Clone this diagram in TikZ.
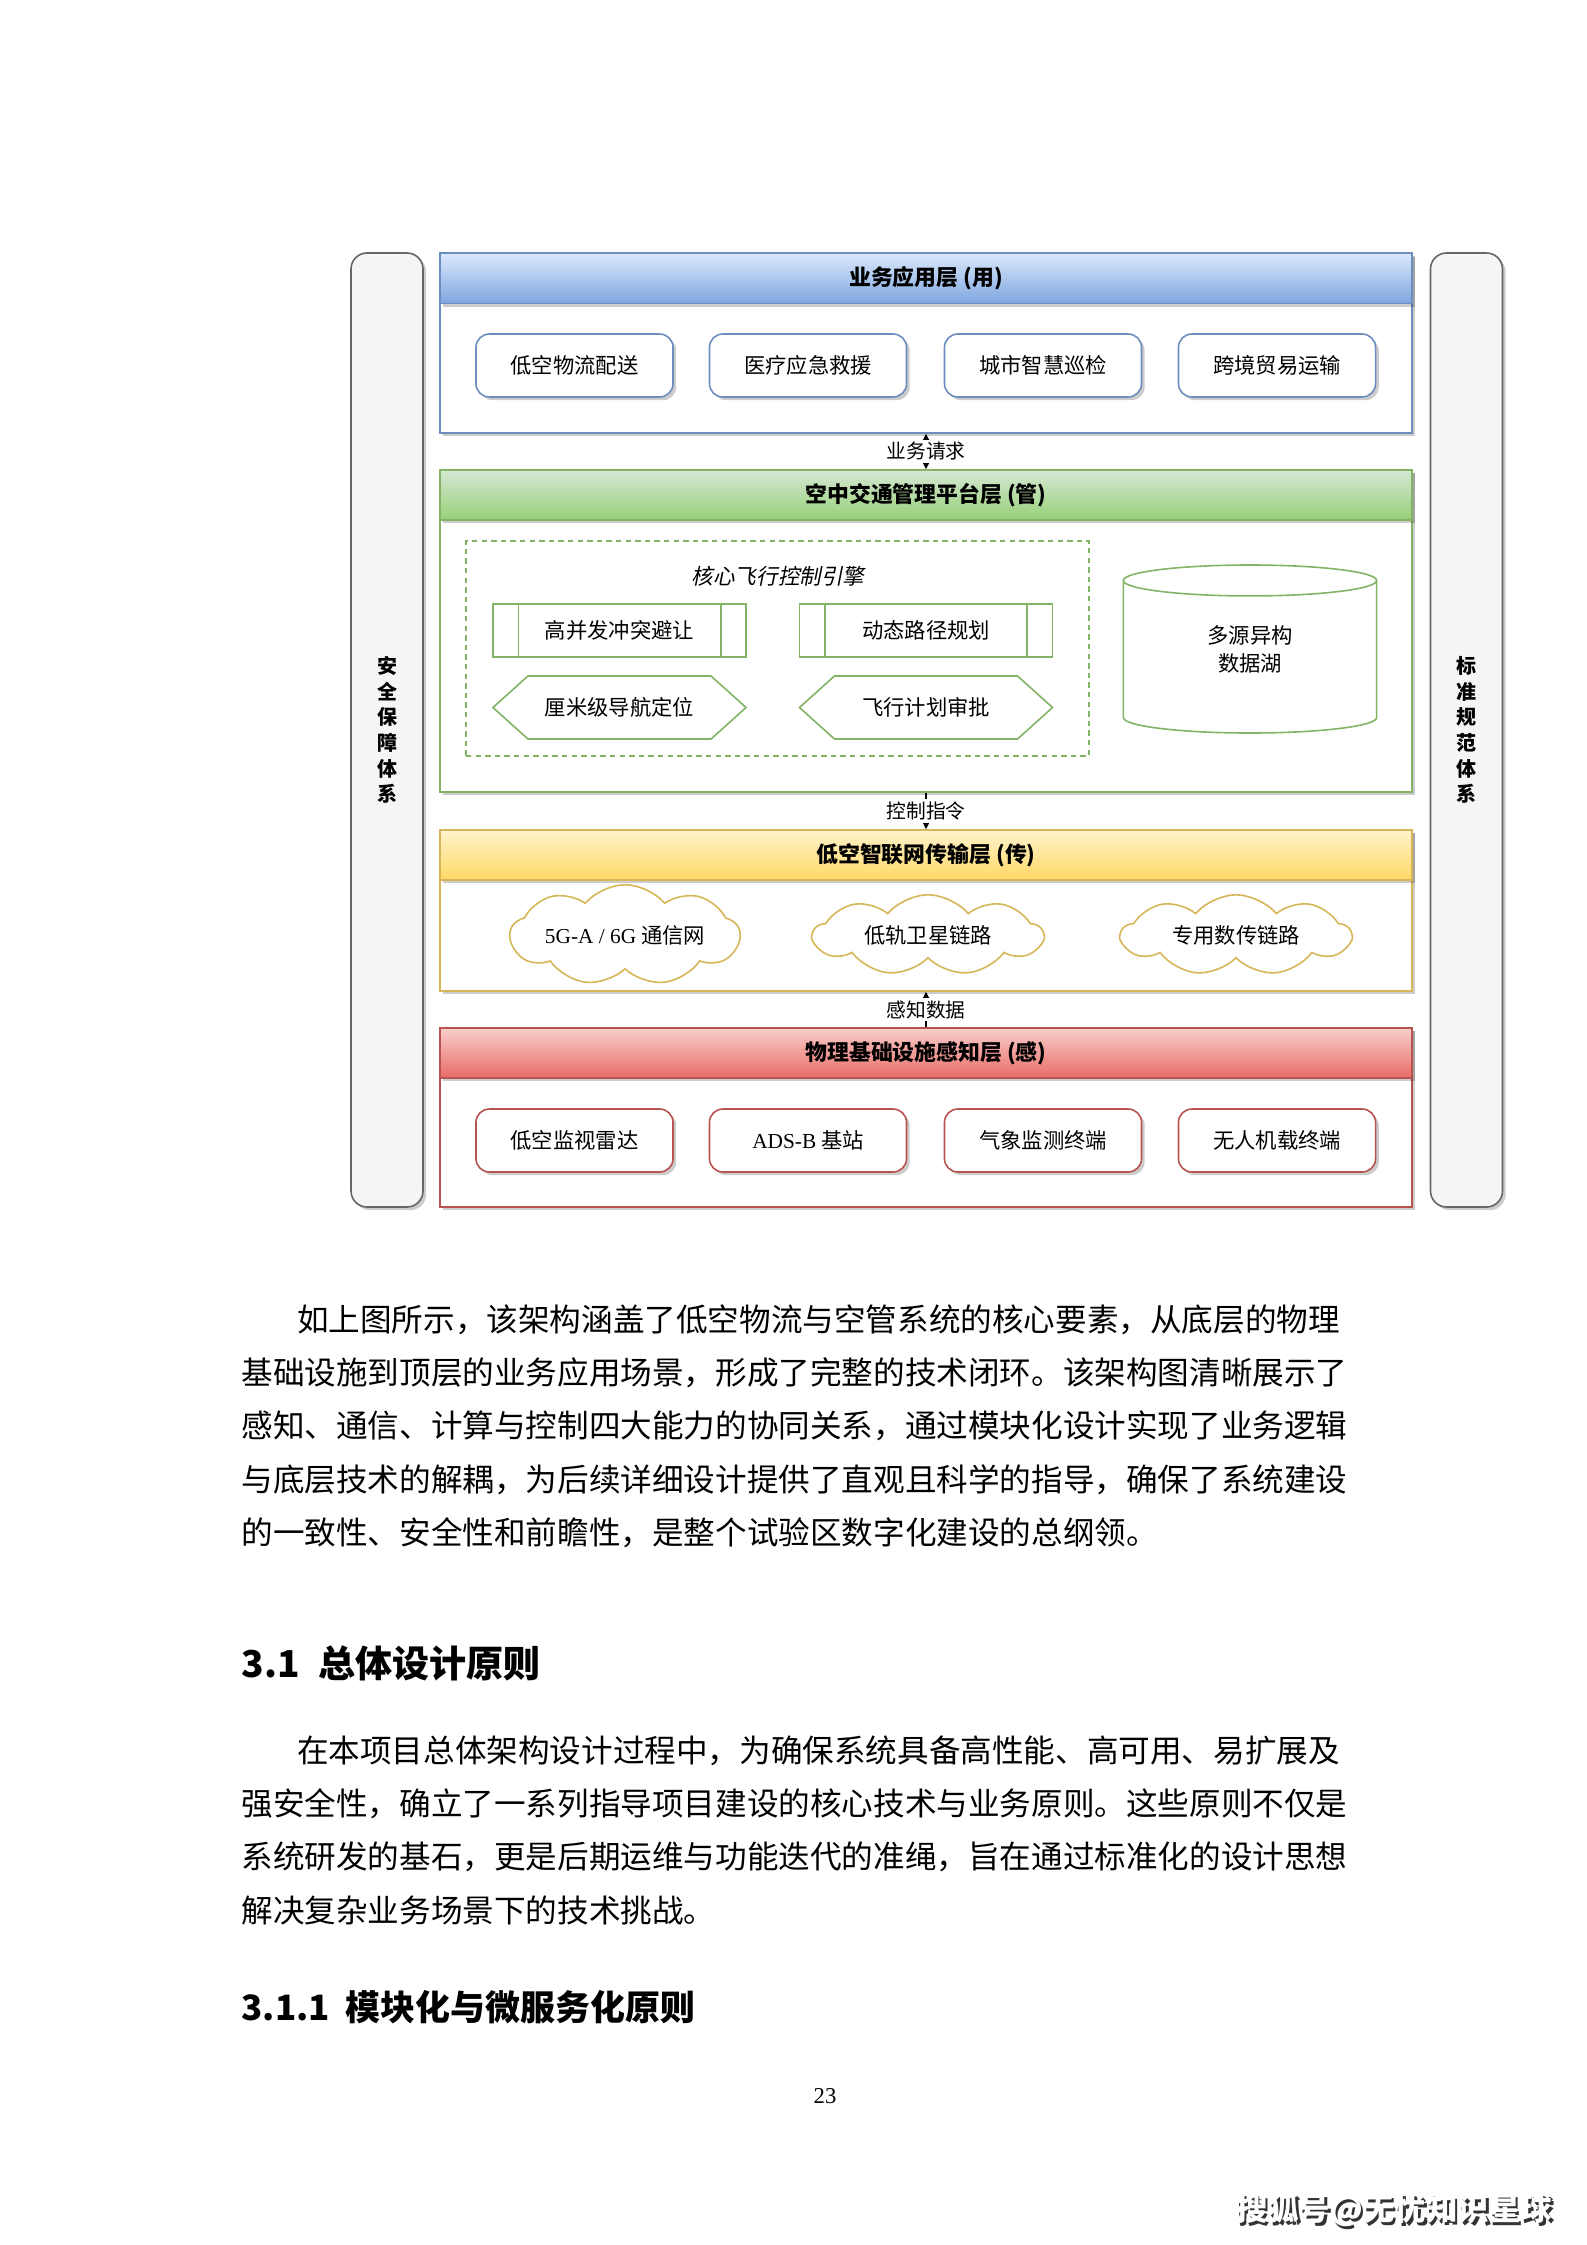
\documentclass[tikz,border=0pt]{standalone}
\usepackage{fontspec}
\setmainfont{Liberation Serif}
\newfontfamily\cjk{Noto Sans CJK SC}
\newfontfamily\cjksl[FakeSlant=0.2]{Noto Sans CJK SC}
\usetikzlibrary{arrows.meta,shadows,shapes.geometric,shapes.symbols,fit}

\definecolor{blueline}{HTML}{6C8EBF}
\definecolor{bluetop}{HTML}{DAE8FC}
\definecolor{bluebot}{HTML}{7EA6E0}
\definecolor{greenline}{HTML}{82B366}
\definecolor{greentop}{HTML}{D5E8D4}
\definecolor{greenbot}{HTML}{97D077}
\definecolor{yellowline}{HTML}{D6B656}
\definecolor{yellowtop}{HTML}{FFF2CC}
\definecolor{yellowbot}{HTML}{FFD966}
\definecolor{redline}{HTML}{B85450}
\definecolor{redtop}{HTML}{F8CECC}
\definecolor{redbot}{HTML}{EA6B66}
\definecolor{pillarfill}{HTML}{F5F5F5}
\definecolor{pillarline}{HTML}{666666}

\begin{document}
\begin{tikzpicture}[x=0.375pt, y=-0.375pt, >={Stealth[length=3pt, width=3pt]},
    softshadow/.style={drop shadow={shadow xshift=1.2pt, shadow yshift=-1.2pt, opacity=0.2, fill=black}},
    layer/.style={draw=#1line, fill=white, line width=0.6pt, inner sep=0pt, softshadow},
    header/.style={draw=#1line, top color=#1top, bottom color=#1bot, line width=0.6pt, inner sep=0pt, minimum width=364.5pt, minimum height=18.75pt, softshadow, font=\cjk\bfseries\fontsize{8.2}{10}\selectfont},
    pillar/.style={draw=pillarline, fill=pillarfill, rounded corners=6pt, line width=0.6pt, inner sep=0pt, minimum width=27pt, minimum height=357.75pt, softshadow, align=center, font=\cjk\bfseries\fontsize{7.5}{9.6}\selectfont},
    itembox/.style={draw=#1line, fill=white, rounded corners=5pt, line width=0.6pt, minimum width=73.9pt, minimum height=23.6pt, inner sep=1pt, softshadow, font=\cjk\fontsize{8}{10}\selectfont},
    procbox/.style={draw=greenline, fill=white, line width=0.6pt, minimum width=94.9pt, minimum height=19.9pt, inner sep=1pt, font=\cjk\fontsize{8}{10}\selectfont,
        path picture={\draw[greenline, line width=0.6pt] ([xshift=9.5pt]path picture bounding box.north west) -- ([xshift=9.5pt]path picture bounding box.south west)
            ([xshift=-9.5pt]path picture bounding box.north east) -- ([xshift=-9.5pt]path picture bounding box.south east);}},
    hexbox/.style={signal, signal to=west and east, signal pointer angle=84, draw=greenline, fill=white, line width=0.6pt, minimum width=94.9pt, minimum height=23.6pt, inner sep=1pt, font=\cjk\fontsize{8}{10}\selectfont},
    datalake/.style={cylinder, shape border rotate=90, aspect=0.3, draw=greenline, fill=white, line width=0.6pt, minimum width=95pt, minimum height=63pt, align=center, font=\cjk\fontsize{8}{10.5}\selectfont},
    netcloud/.style={cloud, cloud puffs=9, cloud puff arc=100, aspect=3.3, draw=yellowline, fill=white, line width=0.6pt, minimum width=86pt, minimum height=26pt, inner sep=0pt, font=\cjk\fontsize{8}{10}\selectfont},
    flow/.style={line width=0.6pt, draw=black},
    flowlabel/.style={fill=white, inner sep=1pt, font=\cjk\fontsize{7.4}{9}\selectfont},
    bodytext/.style={anchor=north west, inner sep=0pt, align=left, font=\cjk\fontsize{11.85}{20}\selectfont}]

\useasboundingbox (0,0) rectangle (1587,2245);

% side systems
\node[pillar] (safety) at (387,730) {安\\全\\保\\障\\体\\系};
\node[pillar] (standard) at (1466.5,730) {标\\准\\规\\范\\体\\系};

% application layer
\node[layer=blue, fit={(440,253)(1412,433)}] (appLayer) {};
\node[header=blue] (appHead) at (926,278.5) {业务应用层 (用)};
\node[itembox=blue] (logistics) at (574.5,365.5) {低空物流配送};
\node[itembox=blue] (medical) at (808,365.5) {医疗应急救援};
\node[itembox=blue] (patrol) at (1043,365.5) {城市智慧巡检};
\node[itembox=blue] (trade) at (1277,365.5) {跨境贸易运输};

% management platform layer
\node[layer=green, fit={(440,470)(1412,792)}] (mgmtLayer) {};
\node[header=green] (mgmtHead) at (926,495) {空中交通管理平台层 (管)};
\node[draw=greenline, dash pattern=on 2pt off 1.6pt, line width=0.6pt, inner sep=0pt, fit={(466,541)(1089,756)}] (engine) {};
\node[font=\cjksl\fontsize{8.1}{10}\selectfont] (engineTitle) at (778,576) {核心飞行控制引擎};
\node[procbox] (conflict) at (619.5,630.5) {高并发冲突避让};
\node[procbox] (route) at (926,630.5) {动态路径规划};
\node[hexbox] (navfix) at (619.5,707.5) {厘米级导航定位};
\node[hexbox] (approval) at (926,707.5) {飞行计划审批};
\node[datalake, anchor=shape center] (lake) at (1250,649) {\phantom{多源异构}\\\phantom{数据湖}};
\node[align=center, inner sep=0pt, font=\cjk\fontsize{8}{10.5}\selectfont] (lakeText) at (lake.shape center) {多源异构\\数据湖};

% network layer
\node[layer=yellow, fit={(440,830)(1412,991)}] (netLayer) {};
\node[header=yellow] (netHead) at (926,855) {低空智联网传输层 (传)};
\node[netcloud] (cellular) at (625,935) {{\rmfamily 5G-A / 6G} 通信网};
\node[netcloud] (satellite) at (928,935) {低轨卫星链路};
\node[netcloud] (datalink) at (1236,935) {专用数传链路};

% sensing layer
\node[layer=red, fit={(440,1028)(1412,1207)}] (senseLayer) {};
\node[header=red] (senseHead) at (926,1053) {物理基础设施感知层 (感)};
\node[itembox=red] (radar) at (574.5,1140.5) {低空监视雷达};
\node[itembox=red] (adsb) at (808,1140.5) {{\rmfamily ADS-B} 基站};
\node[itembox=red] (weather) at (1043,1140.5) {气象监测终端};
\node[itembox=red] (onboard) at (1277,1140.5) {无人机载终端};

% flows between layers
\draw[flow, <->] (appLayer.south) -- node[flowlabel] (reqLabel) {业务请求} (mgmtHead.north);
\draw[flow, ->] (mgmtLayer.south) -- node[flowlabel] (cmdLabel) {控制指令} (netHead.north);
\draw[flow, ->] (senseHead.north) -- node[flowlabel] (dataLabel) {感知数据} (netLayer.south);

% page text
\node[bodytext] (para1) at (241,1304) {\hspace*{20.8pt}如上图所示，该架构涵盖了低空物流与空管系统的核心要素，从底层的物理\\
基础设施到顶层的业务应用场景，形成了完整的技术闭环。该架构图清晰展示了\\
感知、通信、计算与控制四大能力的协同关系，通过模块化设计实现了业务逻辑\\
与底层技术的解耦，为后续详细设计提供了直观且科学的指导，确保了系统建设\\
的一致性、安全性和前瞻性，是整个试验区数字化建设的总纲领。};
\node[anchor=west, inner sep=0pt, font=\cjk\bfseries\fontsize{13.9}{16}\selectfont] (sec31) at (241,1663) {3.1\hspace{7pt}总体设计原则};
\node[bodytext] (para2) at (241,1735) {\hspace*{20.8pt}在本项目总体架构设计过程中，为确保系统具备高性能、高可用、易扩展及\\
强安全性，确立了一系列指导项目建设的核心技术与业务原则。这些原则不仅是\\
系统研发的基石，更是后期运维与功能迭代的准绳，旨在通过标准化的设计思想\\
解决复杂业务场景下的技术挑战。};
\node[anchor=west, inner sep=0pt, font=\cjk\bfseries\fontsize{13.1}{16}\selectfont] (sec311) at (241,2007) {3.1.1\hspace{6pt}模块化与微服务化原则};
\node[font=\rmfamily\fontsize{8.5}{10}\selectfont] (pageNo) at (825,2096) {23};
\node[font=\cjk\bfseries\fontsize{11.8}{14}\selectfont, text=black!80] (sohuShadow) at (1396.5,2212.5) {搜狐号@无忧知识星球};
\node[font=\cjk\bfseries\fontsize{11.8}{14}\selectfont, text=white] (sohuMark) at (1394,2210) {搜狐号@无忧知识星球};

\end{tikzpicture}
\end{document}
